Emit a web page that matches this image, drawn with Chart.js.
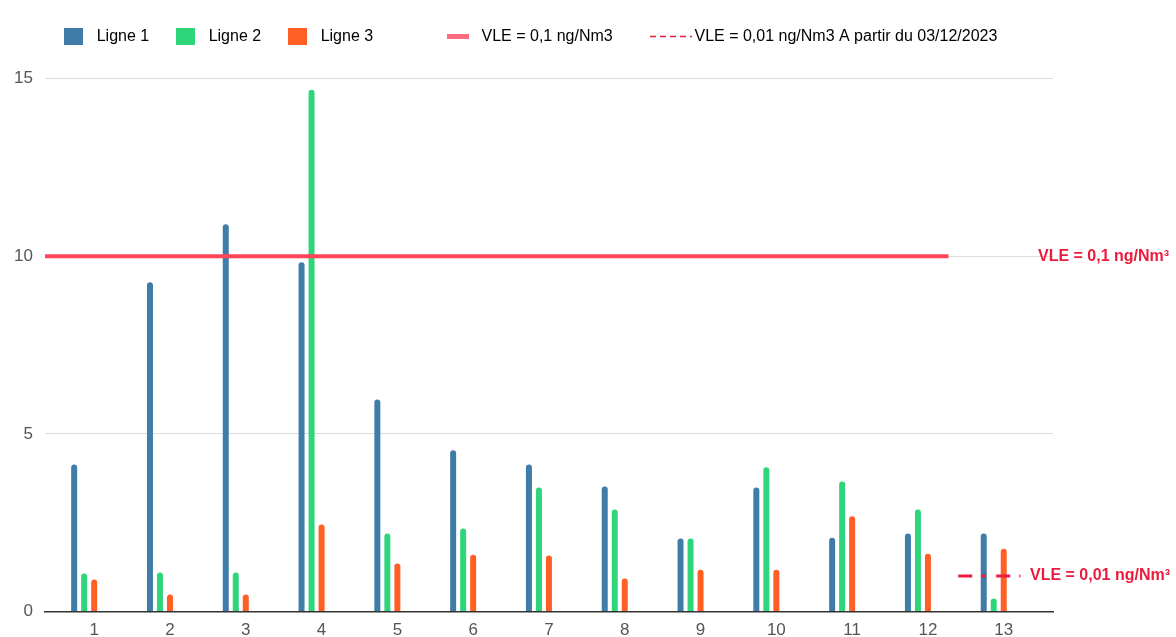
<!DOCTYPE html>
<html lang="fr">
<head>
  <meta charset="UTF-8">
  <title>Lignes 1-3 et VLE</title>
  <script src="https://cdn.jsdelivr.net/npm/chart.js"></script>
  <style>
    html, body { margin: 0; padding: 0; background: #fff; }
  </style>
</head>
<body>
  <canvas id="chart" width="1176" height="637"></canvas>

  <script>
    // Valeurs
    const categories = [1, 2, 3, 4, 5, 6, 7, 8, 9, 10, 11, 12, 13];
    const ligne1 = [4.14, 9.27, 10.9, 9.83, 5.97, 4.54, 4.14, 3.52, 2.06, 3.49, 2.08, 2.2, 2.2];
    const ligne2 = [1.07, 1.1, 1.1, 14.68, 2.2, 2.34, 3.49, 2.87, 2.06, 4.06, 3.66, 2.87, 0.37];
    const ligne3 = [0.9, 0.48, 0.48, 2.45, 1.35, 1.6, 1.58, 0.93, 1.18, 1.18, 2.68, 1.63, 1.77];

    // Valeurs limites (VLE) et étendue des traits sur l'axe x
    const vleValues = [10, 1];
    const vleSolidX = [0.35, 12.27];
    const vleDashX = [12.4, 13.22];
    const vleLabels = ['VLE = 0,1 ng/Nm³', 'VLE = 0,01 ng/Nm³'];
    const yTicks = [0, 5, 10, 15];

    const FONT = '"Liberation Sans", Arial, sans-serif';
    const BLUE = '#3f7ca8';
    const GREEN = '#2fd57a';
    const ORANGE = '#ff5f24';
    const RED = '#ff4358';
    const RED_DARK = '#ec1a3c';

    // petites vignettes pour la légende
    function swatch(w, h, draw) {
      const c = document.createElement('canvas');
      c.width = w;
      c.height = h;
      draw(c.getContext('2d'), w, h);
      return c;
    }
    const boxSwatch = color => swatch(19, 17, (ctx, w, h) => {
      ctx.fillStyle = color;
      ctx.fillRect(0, 0, w, h);
    });
    const solidSwatch = swatch(22, 5, (ctx, w, h) => {
      ctx.fillStyle = '#ff6b81';
      ctx.fillRect(0, 0, w, h);
    });
    const dashSwatch = swatch(42, 3, (ctx, w, h) => {
      ctx.strokeStyle = RED_DARK;
      ctx.lineWidth = 1.5;
      ctx.setLineDash([6, 4]);
      ctx.beginPath();
      ctx.moveTo(0, h / 2);
      ctx.lineTo(w, h / 2);
      ctx.stroke();
    });

    const legendText = ['Ligne 1', 'Ligne 2', 'Ligne 3' + ' '.repeat(11), 'VLE = 0,1 ng/Nm3' + ' '.repeat(5),
      'VLE = 0,01 ng/Nm3 A partir du 03/12/2023'];
    const legendSwatches = [boxSwatch(BLUE), boxSwatch(GREEN), boxSwatch(ORANGE), solidSwatch, dashSwatch];

    const toPoints = arr => arr.map((v, i) => ({ x: categories[i], y: v }));

    const barStyle = {
      type: 'bar',
      order: 1,
      borderRadius: { topLeft: 3, topRight: 3 },
      borderSkipped: 'bottom',
      categoryPercentage: 0.66,
      barPercentage: 0.6
    };

    // texte rouge à droite des lignes VLE
    const vleLabelPlugin = {
      id: 'vleLabels',
      afterDatasetsDraw(chart) {
        const { ctx, chartArea, scales } = chart;
        ctx.save();
        ctx.font = 'bold 16px ' + FONT;
        ctx.fillStyle = RED_DARK;
        ctx.textBaseline = 'middle';
        ctx.fillText(vleLabels[0], chartArea.right - 15, scales.y.getPixelForValue(vleValues[0]));
        ctx.fillText(vleLabels[1], chartArea.right - 23, scales.y.getPixelForValue(vleValues[1]));
        ctx.restore();
      }
    };

    // un peu plus d'espace sous la légende
    const legendSpace = {
      id: 'legendSpace',
      beforeLayout(chart) {
        const legend = chart.legend;
        if (!legend || legend._patched) return;
        const fit = legend.fit;
        legend.fit = function () {
          fit.call(this);
          this.height += 24;
        };
        legend._patched = true;
      }
    };

    new Chart(document.getElementById('chart'), {
      data: {
        datasets: [
          { ...barStyle, label: 'Ligne 1', data: toPoints(ligne1), backgroundColor: BLUE },
          { ...barStyle, label: 'Ligne 2', data: toPoints(ligne2), backgroundColor: GREEN },
          { ...barStyle, label: 'Ligne 3', data: toPoints(ligne3), backgroundColor: ORANGE },
          { ...barStyle, label: '', data: [] },
          { ...barStyle, label: '', data: [] },
          {
            type: 'line',
            order: 0,
            label: 'VLE = 0,1 ng/Nm3',
            data: vleSolidX.map(x => ({ x, y: vleValues[0] })),
            borderColor: RED,
            borderWidth: 4,
            pointRadius: 0
          },
          {
            type: 'line',
            order: 0,
            label: 'VLE = 0,01 ng/Nm3 A partir du 03/12/2023',
            data: vleDashX.map(x => ({ x, y: vleValues[1] })),
            borderColor: RED_DARK,
            borderWidth: 3,
            borderDash: [14, 9, 4, 11],
            pointRadius: 0
          }
        ]
      },
      options: {
        responsive: false,
        animation: false,
        devicePixelRatio: 1,
        layout: { padding: { top: 8, left: 2, right: 123, bottom: -13 } },
        plugins: {
          tooltip: { enabled: false },
          legend: {
            position: 'top',
            labels: {
              usePointStyle: true,
              pointStyleWidth: 31,
              padding: 20.5,
              color: '#666',
              font: { family: FONT, size: 16 },
              generateLabels(chart) {
                return chart.data.datasets
                  .map((ds, i) => ({ ds, i }))
                  .filter(o => o.ds.label)
                  .map((o, k) => ({
                    text: legendText[k],
                    pointStyle: legendSwatches[k],
                    fillStyle: 'transparent',
                    strokeStyle: 'transparent',
                    lineWidth: 0,
                    hidden: false,
                    datasetIndex: o.i
                  }));
              }
            }
          }
        },
        scales: {
          x: {
            type: 'linear',
            min: 0.35,
            max: 13.65,
            offset: false,
            grid: { display: false, drawTicks: false },
            border: { display: true, color: '#333', width: 1.5 },
            afterBuildTicks(scale) {
              scale.ticks = categories.map(v => ({ value: v }));
            },
            ticks: {
              padding: 9,
              color: '#555',
              font: { family: FONT, size: 17 },
              callback: v => String(v)
            }
          },
          y: {
            min: 0,
            max: 15,
            afterBuildTicks(scale) {
              scale.ticks = yTicks.map(v => ({ value: v }));
            },
            grid: { color: '#dcdcdc', drawTicks: false },
            border: { display: false },
            ticks: {
              padding: 12,
              color: '#555',
              font: { family: FONT, size: 17 }
            }
          }
        }
      },
      plugins: [vleLabelPlugin, legendSpace]
    });
  </script>
</body>
</html>
